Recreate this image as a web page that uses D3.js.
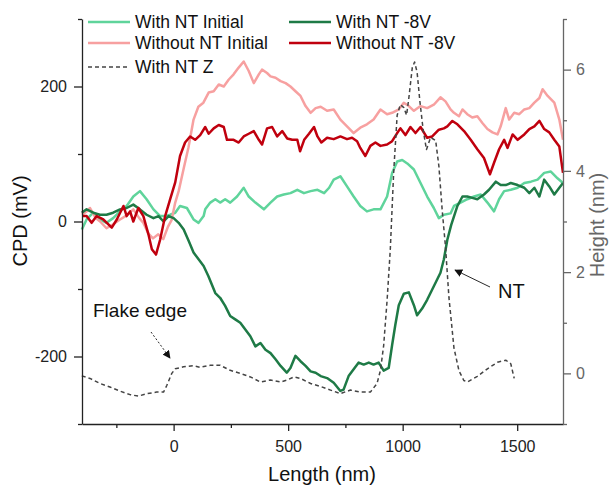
<!DOCTYPE html>
<html>
<head>
<meta charset="utf-8">
<script src="https://cdn.jsdelivr.net/npm/d3@7"></script>
<style>
  body { margin: 0; background: #fff; }
  svg { font-family: "Liberation Sans", Arial, sans-serif; }
</style>
</head>
<body>
<script>
// Size of the picture
var width = 609;
var height = 487;

// Data: [length (nm), CPD (mV)]
var withNtInitial = [
  [-401, -12], [-380, 3], [-351, 13], [-322, 3], [-293, -2], [-264, 5], [-234, 15], [-205, 23],
  [-176, 37], [-147, 45], [-118, 33], [-88, 18], [-59, 8], [-37, 8], [-15, 10], [7, 13],
  [28, 23], [58, 20], [87, 3], [109, -2], [131, 8], [138, 18], [160, 28], [182, 33],
  [203, 28], [225, 33], [247, 28], [277, 37], [306, 50], [328, 37], [357, 28], [394, 18],
  [423, 28], [452, 37], [481, 40], [510, 42], [540, 47], [569, 42], [598, 45], [628, 47],
  [657, 42], [679, 50], [699, 62], [728, 67], [757, 52], [786, 37], [815, 23], [844, 15],
  [873, 18], [903, 18], [932, 37], [954, 72], [976, 89], [998, 91], [1020, 86], [1049, 77],
  [1078, 57], [1107, 37], [1136, 20], [1158, 5], [1180, 10], [1209, 12], [1224, 23], [1253, 28],
  [1282, 33], [1312, 37], [1341, 40], [1370, 28], [1399, 15], [1421, 33], [1443, 45], [1472, 47],
  [1502, 50], [1531, 57], [1560, 59], [1589, 62], [1618, 72], [1647, 74], [1676, 64], [1700, 57]
];

var withNt8V = [
  [-401, 13], [-380, 18], [-351, 13], [-322, 10], [-293, 10], [-264, 13], [-234, 18], [-205, 20],
  [-176, 25], [-147, 18], [-118, 10], [-88, 5], [-66, 8], [-44, 0], [-22, 8], [0, 5],
  [22, -2], [44, -12], [66, -29], [87, -46], [109, -56], [131, -66], [152, -81], [182, -106],
  [203, -113], [225, -125], [247, -140], [269, -145], [291, -150], [313, -160], [335, -170], [357, -185],
  [379, -180], [401, -190], [423, -195], [445, -204], [467, -214], [494, -224], [510, -217], [532, -199],
  [554, -207], [576, -214], [598, -222], [620, -224], [642, -229], [670, -232], [699, -239], [728, -251],
  [742, -249], [764, -229], [786, -219], [808, -209], [830, -212], [852, -209], [873, -212], [895, -209],
  [917, -221], [939, -217], [954, -183], [968, -153], [983, -124], [1005, -107], [1027, -105], [1049, -124],
  [1063, -139], [1085, -129], [1107, -116], [1136, -96], [1165, -76], [1180, -56], [1195, -27], [1212, -5],
  [1239, 23], [1261, 37], [1282, 37], [1304, 35], [1326, 33], [1355, 40], [1377, 47], [1407, 59],
  [1428, 54], [1450, 54], [1472, 57], [1502, 54], [1531, 50], [1553, 42], [1575, 50], [1597, 37],
  [1618, 62], [1640, 52], [1662, 40], [1684, 50], [1700, 57]
];

var withoutNtInitial = [
  [-400, 10], [-380, 15], [-365, 20], [-340, 5], [-321, 0], [-293, -10], [-264, -4], [-234, 3],
  [-205, 9], [-176, 18], [-150, 5], [-132, -2], [-110, -18], [-90, -25], [-67, -19], [-45, -26],
  [-25, -8], [-9, 2], [7, 28], [22, 45], [43, 77], [65, 110], [87, 151], [108, 170],
  [130, 176], [153, 191], [175, 193], [197, 203], [219, 200], [240, 210], [262, 218], [284, 228],
  [306, 237], [328, 223], [350, 205], [372, 218], [386, 225], [408, 220], [423, 215], [445, 213],
  [467, 208], [489, 205], [510, 200], [532, 193], [554, 186], [576, 171], [598, 161], [620, 168],
  [642, 170], [670, 164], [699, 166], [728, 151], [757, 141], [786, 131], [815, 139], [844, 144],
  [873, 151], [903, 166], [932, 159], [954, 161], [983, 166], [1005, 176], [1027, 171], [1049, 164],
  [1078, 171], [1107, 168], [1136, 173], [1165, 184], [1187, 178], [1209, 166], [1224, 161], [1246, 156],
  [1261, 166], [1282, 159], [1304, 154], [1326, 156], [1348, 146], [1370, 137], [1392, 132], [1414, 129],
  [1428, 141], [1450, 168], [1465, 151], [1487, 161], [1509, 159], [1531, 166], [1553, 168], [1575, 176],
  [1597, 183], [1611, 196], [1633, 186], [1662, 176], [1684, 151], [1700, 121]
];

var withoutNt8V = [
  [-400, 8], [-380, 8], [-358, -2], [-336, 8], [-307, 3], [-270, -9], [-248, 3], [-219, 23],
  [-205, 8], [-190, 15], [-176, 0], [-154, 20], [-132, 8], [-110, -19], [-95, -41], [-77, -49],
  [-59, -27], [-37, 8], [-15, 33], [7, 58], [28, 97], [50, 117], [72, 126], [94, 121],
  [116, 128], [138, 140], [153, 130], [175, 138], [197, 143], [219, 140], [233, 121], [262, 121],
  [284, 117], [306, 126], [328, 130], [350, 134], [372, 121], [386, 114], [408, 138], [430, 140],
  [452, 126], [474, 134], [496, 123], [518, 121], [540, 121], [552, 104], [570, 121], [591, 130],
  [613, 140], [628, 126], [645, 117], [670, 124], [699, 122], [728, 126], [757, 122], [779, 124],
  [801, 119], [815, 109], [837, 97], [859, 112], [881, 117], [903, 112], [932, 114], [954, 119],
  [976, 131], [990, 138], [1012, 128], [1034, 140], [1056, 131], [1078, 140], [1107, 124], [1129, 126],
  [1158, 136], [1180, 138], [1195, 141], [1217, 149], [1239, 144], [1268, 134], [1297, 121], [1326, 107],
  [1355, 94], [1381, 70], [1399, 87], [1421, 107], [1443, 121], [1458, 109], [1480, 129], [1502, 121],
  [1531, 129], [1553, 137], [1575, 141], [1597, 149], [1618, 137], [1640, 132], [1662, 121], [1684, 111],
  [1700, 72]
];

// [length (nm), height (nm)] on the right axis
var withNtZ = [
  [-401, -0.05], [-365, -0.1], [-321, -0.2], [-278, -0.27], [-234, -0.35], [-190, -0.42], [-154, -0.45], [-117, -0.4],
  [-74, -0.37], [-44, -0.37], [-30, -0.24], [-8, 0], [7, 0.09], [43, 0.13], [87, 0.15], [116, 0.12],
  [160, 0.16], [203, 0.16], [247, 0.06], [291, 0], [335, -0.07], [379, -0.17], [423, -0.13], [467, -0.17],
  [496, -0.13], [525, -0.07], [554, -0.1], [598, -0.2], [642, -0.26], [685, -0.33], [728, -0.4], [772, -0.33],
  [815, -0.37], [859, -0.37], [888, -0.2], [903, 0.06], [917, 0.55], [932, 1.44], [946, 2.45], [961, 4.0],
  [976, 5.1], [990, 5.31], [1005, 5.25], [1017, 5.1], [1027, 5.44], [1042, 6.04], [1052, 6.15], [1063, 5.95],
  [1075, 5.38], [1090, 4.79], [1104, 4.42], [1122, 4.66], [1144, 4.6], [1158, 4.1], [1173, 3.2], [1187, 2.5],
  [1202, 1.5], [1224, 0.5], [1246, 0.05], [1267, -0.14], [1282, -0.17], [1326, -0.06], [1370, 0.09], [1414, 0.22],
  [1450, 0.26], [1472, 0.19], [1487, -0.1]
];

var xTicks = [0, 500, 1000, 1500];
var xMinorTicks = [-250, 250, 750, 1250];
var cpdTicks = [-200, 0, 200];
var cpdMinorTicks = [-300, -100, 100, 300];
var heightTicks = [0, 2, 4, 6];
var heightMinorTicks = [-1, 1, 3, 5, 7];

// Scales
var x = d3.scaleLinear().domain([-400, 1700]).range([82, 563]);
var yL = d3.scaleLinear().domain([-300, 300]).range([424, 19]);
var yR = d3.scaleLinear().domain([-1, 7]).range([424, 19]);

// plain numbers, hyphen minus and no thousands comma like the original
var plain = function(d) { return String(d); };

var svg = d3.select('body').append('svg')
  .attr('width', width)
  .attr('height', height);

// series in drawing order
var series = [
  {name: 'With NT Initial', data: withNtInitial, color: '#5fd49b', y: yL, dash: null, width: 2.5},
  {name: 'Without NT Initial', data: withoutNtInitial, color: '#f7a0a0', y: yL, dash: null, width: 2.5},
  {name: 'With NT -8V', data: withNt8V, color: '#1e7a46', y: yL, dash: null, width: 2.5},
  {name: 'Without NT -8V', data: withoutNt8V, color: '#c0000e', y: yL, dash: null, width: 2.5},
  {name: 'With NT Z', data: withNtZ, color: '#444', y: yR, dash: '4,3', width: 1.5}
];

var plot = svg.append('g');
series.forEach(function(s) {
  var line = d3.line()
    .x(function(d) { return x(d[0]); })
    .y(function(d) { return s.y(d[1]); });
  plot.append('path')
    .datum(s.data)
    .attr('d', line)
    .attr('fill', 'none')
    .attr('stroke', s.color)
    .attr('stroke-width', s.width)
    .attr('stroke-linejoin', 'round')
    .attr('stroke-dasharray', s.dash);
});

// Axes
function styleAxis(g, color, size) {
  g.selectAll('path, line').attr('stroke', color).attr('stroke-width', 1.3);
  g.selectAll('text').attr('fill', color).style('font-size', size + 'px');
}

var bottom = svg.append('g').attr('transform', 'translate(0,424)');
bottom.call(d3.axisBottom(x).tickValues(xTicks).tickFormat(plain).tickSize(7).tickSizeOuter(0).tickPadding(10));
bottom.append('g').call(d3.axisBottom(x).tickValues(xMinorTicks).tickSize(4).tickFormat('')).select('.domain').remove();
styleAxis(bottom, '#222', 16);

var left = svg.append('g').attr('transform', 'translate(82,0)');
left.call(d3.axisLeft(yL).tickValues(cpdTicks).tickFormat(plain).tickSize(8).tickSizeOuter(0).tickPadding(7));
left.append('g').call(d3.axisLeft(yL).tickValues(cpdMinorTicks).tickSize(4).tickFormat('')).select('.domain').remove();
styleAxis(left, '#222', 16);

var right = svg.append('g').attr('transform', 'translate(563,0)');
right.call(d3.axisRight(yR).tickValues(heightTicks).tickFormat(plain).tickSize(8).tickSizeOuter(0).tickPadding(5));
right.append('g').call(d3.axisRight(yR).tickValues(heightMinorTicks).tickSize(4).tickFormat('')).select('.domain').remove();
styleAxis(right, '#666', 16);

// Axis titles
svg.append('text')
  .attr('transform', 'translate(20,221) rotate(-90)')
  .attr('text-anchor', 'middle')
  .attr('dy', '0.35em')
  .style('font-size', '20px')
  .attr('fill', '#111')
  .text('CPD (mV)');

svg.append('text')
  .attr('transform', 'translate(597,225) rotate(-90)')
  .attr('text-anchor', 'middle')
  .attr('dy', '0.35em')
  .style('font-size', '20px')
  .attr('fill', '#666')
  .text('Height (nm)');

svg.append('text')
  .attr('x', 322)
  .attr('y', 481)
  .attr('text-anchor', 'middle')
  .style('font-size', '20px')
  .attr('fill', '#111')
  .text('Length (nm)');

// Legend
var legendPos = [[88, 22], [88, 43], [289, 22], [289, 43], [88, 67]];
var legend = svg.append('g');
series.forEach(function(s, i) {
  var p = legendPos[i];
  legend.append('line')
    .attr('x1', p[0]).attr('x2', p[0] + 42)
    .attr('y1', p[1]).attr('y2', p[1])
    .attr('stroke', s.color)
    .attr('stroke-width', s.width)
    .attr('stroke-dasharray', s.dash);
  legend.append('text')
    .attr('x', p[0] + 47)
    .attr('y', p[1])
    .attr('dy', '0.35em')
    .style('font-size', '17.5px')
    .attr('fill', '#111')
    .text(s.name);
});

// Annotations
var defs = svg.append('defs');
defs.append('marker')
  .attr('id', 'arrow')
  .attr('viewBox', '0 0 10 10')
  .attr('refX', 9).attr('refY', 5)
  .attr('markerWidth', 8).attr('markerHeight', 8)
  .attr('markerUnits', 'userSpaceOnUse')
  .attr('orient', 'auto')
  .append('path')
  .attr('d', 'M0,0 L10,5 L0,10 z')
  .attr('fill', '#111');

svg.append('text')
  .attr('x', 93).attr('y', 317)
  .style('font-size', '19px')
  .attr('fill', '#111')
  .text('Flake edge');

svg.append('line')
  .attr('x1', 151).attr('y1', 332)
  .attr('x2', 170).attr('y2', 358)
  .attr('stroke', '#111')
  .attr('stroke-width', 0.9)
  .attr('stroke-dasharray', '2,2')
  .attr('marker-end', 'url(#arrow)');

svg.append('text')
  .attr('x', 498).attr('y', 298)
  .style('font-size', '20px')
  .attr('fill', '#111')
  .text('NT');

svg.append('line')
  .attr('x1', 490).attr('y1', 287)
  .attr('x2', 455).attr('y2', 270)
  .attr('stroke', '#111')
  .attr('stroke-width', 0.9)
  .attr('marker-end', 'url(#arrow)');
</script>
</body>
</html>
